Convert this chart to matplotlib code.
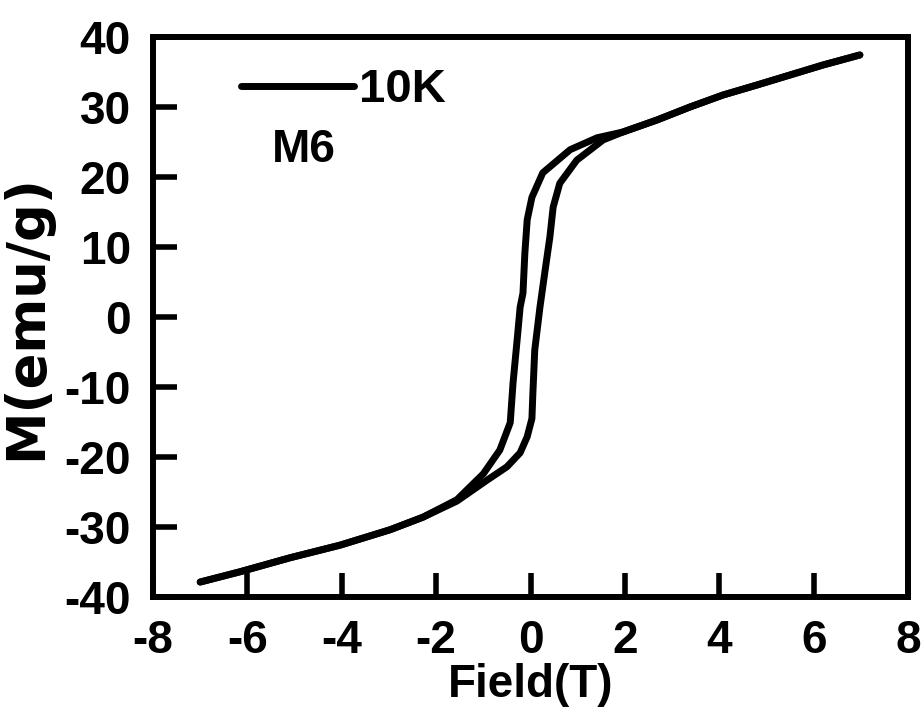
import matplotlib
matplotlib.use("Agg")
import matplotlib.pyplot as plt

# descending branch (field from +7 T down to -7 T)
field_down = [6.98, 6.20, 5.50, 4.80, 4.08, 3.38, 2.68, 1.96, 1.41, 0.84, 0.26,
              0.03, -0.07, -0.12, -0.16, -0.22, -0.27, -0.37, -0.43, -0.65,
              -1.0, -1.56, -2.28, -2.98, -4.04, -5.10, -6.16, -7.0]
m_down = [37.43, 36.0, 34.57, 33.14, 31.71, 30.0, 28.14, 26.43, 25.6, 23.9, 20.6,
          17.1, 13.9, 9.1, 3.4, 1.4, -2.3, -9.4, -15.1, -19.0,
          -22.4, -26.1, -28.6, -30.4, -32.6, -34.4, -36.4, -37.86]

# ascending branch (field from -7 T up to +7 T)
field_up = [-7.0, -6.16, -5.10, -4.04, -2.98, -2.28, -1.56, -0.92, -0.50, -0.22,
            -0.07, 0.03, 0.05, 0.09, 0.20, 0.31, 0.41, 0.48, 0.62, 0.98, 1.54,
            1.96, 2.68, 3.38, 4.08, 4.80, 5.50, 6.20, 6.98]
m_up = [-37.86, -36.4, -34.4, -32.6, -30.4, -28.6, -26.3, -23.3, -21.4, -19.4,
        -17.1, -14.5, -10.9, -4.7, 1.4, 6.7, 11.4, 15.7, 19.1, 22.4, 25.3,
        26.43, 28.14, 30.0, 31.71, 33.14, 34.57, 36.0, 37.43]

x_ticks = [-8, -6, -4, -2, 0, 2, 4, 6, 8]
y_ticks = [-40, -30, -20, -10, 0, 10, 20, 30, 40]


def main():
    plt.rcParams["font.family"] = ["Liberation Sans", "DejaVu Sans"]
    plt.rcParams["font.weight"] = "bold"
    plt.rcParams["axes.unicode_minus"] = False

    fig = plt.figure(figsize=(9.24, 7.18), dpi=100)
    ax = fig.add_axes([0.1656, 0.1685, 0.8171, 0.78])

    style = dict(color="black", lw=5, solid_capstyle="round",
                 solid_joinstyle="round")
    line, = ax.plot(field_down, m_down, label="10K", **style)
    ax.plot(field_up, m_up, **style)

    ax.set_xlim(-8, 8)
    ax.set_ylim(-40, 40)
    ax.set_xticks(x_ticks)
    ax.set_yticks(y_ticks)
    ax.tick_params(direction="in", length=17, width=4, pad=16,
                   labelsize=33, top=False, right=False)
    for lab in ax.get_xticklabels() + ax.get_yticklabels():
        lab.set_fontweight("bold")
    for sp in ax.spines.values():
        sp.set_linewidth(4.3)

    ax.set_xlabel("Field(T)", fontsize=33, fontweight="bold", labelpad=0)
    # the y label in the original is drawn noticeably longer than the others
    ax.set_ylabel("M(emu/g)", fontsize=38, fontweight="bold", labelpad=9,
                  family=["DejaVu Sans"])

    leg = ax.legend(handles=[line], loc="upper left", frameon=False,
                    bbox_to_anchor=(0.06, 1.02), fontsize=34,
                    handlelength=2.4, handletextpad=0.1)
    for t in leg.get_texts():
        t.set_fontweight("bold")

    ax.text(0.158, 0.798, "M6", transform=ax.transAxes, fontsize=33,
            fontweight="bold", va="center", ha="left")

    fig.savefig("out.png", dpi=100)


if __name__ == "__main__":
    main()
